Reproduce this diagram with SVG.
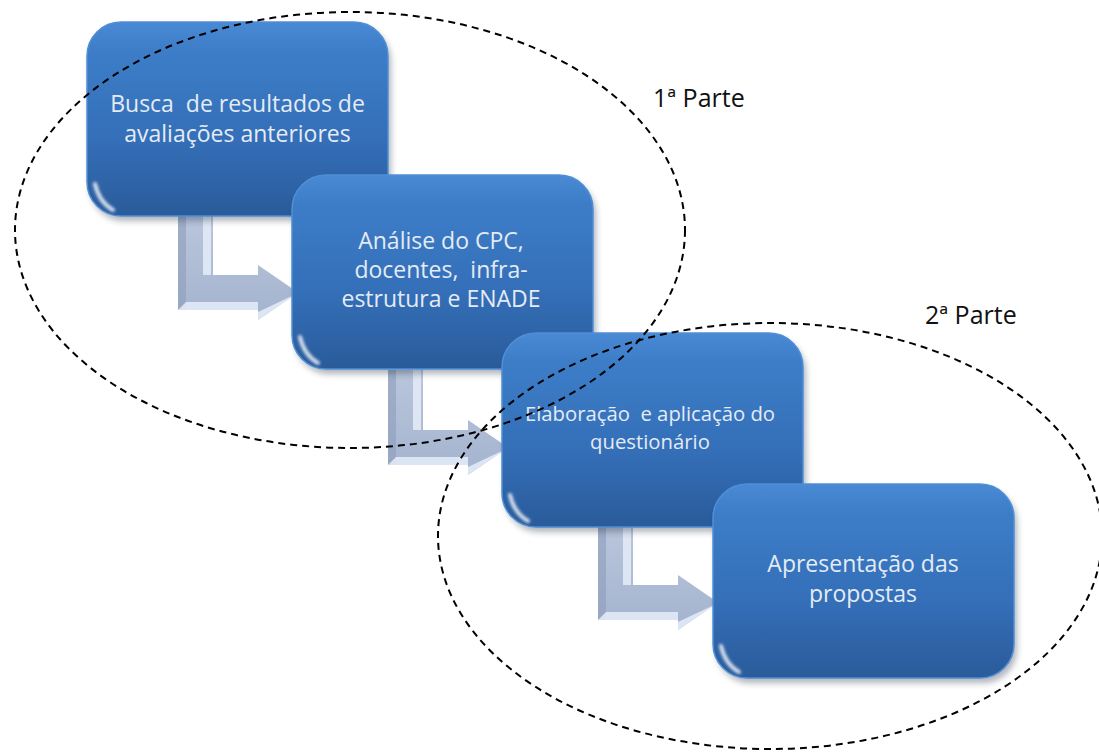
<svg xmlns="http://www.w3.org/2000/svg" width="1099" height="753" viewBox="0 0 1099 753">
<style>
.box{fill:url(#boxGrad);stroke:#4f8fd6;stroke-width:1.5}
.shadow{fill:#1a2a40;opacity:.35;filter:url(#blur4)}
.hltop{fill:none;stroke:url(#hlGrad);stroke-width:5;stroke-linecap:round;filter:url(#blur1)}
.glare{fill:none;stroke:#ffffff;stroke-width:4;stroke-linecap:round;opacity:.8;filter:url(#blur2)}
.edger{fill:none;stroke:#8cc0ef;stroke-width:3;opacity:.55;filter:url(#blur1)}
.lbl{font-family:"Open Sans","Liberation Sans",sans-serif;font-size:23px;fill:#e4ebf4;text-anchor:middle}
.part{font-family:"Open Sans","Liberation Sans",sans-serif;font-size:25px;fill:#111}
.ell{fill:none;stroke:#000;stroke-width:2;stroke-dasharray:7 5}
.arr{fill:url(#arrGrad)}
.arrhl{fill:#e2eaf6;opacity:.9}
.arrsh{fill:#8e9dbb;opacity:.6}
</style>
<defs>
<linearGradient id="boxGrad" x1="0" y1="0" x2="0" y2="1">
<stop offset="0" stop-color="#4a8ad4"/>
<stop offset="0.15" stop-color="#3d7dc8"/>
<stop offset="0.6" stop-color="#346fb8"/>
<stop offset="1" stop-color="#2a5b9a"/>
</linearGradient>
<linearGradient id="hlGrad" x1="0" y1="0" x2="1" y2="0">
<stop offset="0" stop-color="#9fcbf3" stop-opacity="0.2"/>
<stop offset="0.15" stop-color="#9fcbf3" stop-opacity="0.8"/>
<stop offset="0.85" stop-color="#9fcbf3" stop-opacity="0.8"/>
<stop offset="1" stop-color="#9fcbf3" stop-opacity="0.2"/>
</linearGradient>
<linearGradient id="arrGrad" x1="0" y1="0" x2="0" y2="1">
<stop offset="0" stop-color="#b9c6dc"/>
<stop offset="1" stop-color="#a4b3ce"/>
</linearGradient>
<filter id="blur1" x="-20%" y="-20%" width="140%" height="140%"><feGaussianBlur stdDeviation="1.2"/></filter>
<filter id="blur2" x="-50%" y="-50%" width="200%" height="200%"><feGaussianBlur stdDeviation="1.8"/></filter>
<filter id="blur4" x="-20%" y="-20%" width="140%" height="140%"><feGaussianBlur stdDeviation="3"/></filter>
<g id="arrow">
<path class="arr" d="M0,0 H35 V60 H80 V50 L120,77.5 L80,105 V95 H0 Z"/>
<path class="arrhl" d="M25,0 H33 V60 H25 Z" opacity=".7"/>
<path class="arrsh" d="M0,0 H8 V95 H0 Z"/>
<path class="arrhl" d="M8,87 H80 V95 H0 Z"/>
<path class="arrhl" d="M80,97 L118,79 L120,77.5 L80,105 Z" opacity=".6"/>
</g>
</defs>
<g id="connectors">
<use href="#arrow" transform="translate(178,215)"/>
<use href="#arrow" transform="translate(388,370)"/>
<use href="#arrow" transform="translate(598,525)"/>
</g>
<g id="n1" transform="translate(87,22)">
<rect class="shadow" x="3" y="5" width="301" height="194" rx="34"/>
<rect class="box" width="301" height="194" rx="34"/>
<path class="hltop" d="M26,7 H275"/>
<path class="glare" d="M8,162 Q12,180 26,188"/>
<path class="edger" d="M296,32 V162"/>
<text class="lbl" x="150.5" y="90" xml:space="preserve">Busca  de resultados de</text>
<text class="lbl" x="150.5" y="120">avaliações anteriores</text>
</g>
<g id="n2" transform="translate(292,175)">
<rect class="shadow" x="3" y="5" width="301" height="194" rx="34"/>
<rect class="box" width="301" height="194" rx="34"/>
<path class="hltop" d="M26,7 H275"/>
<path class="glare" d="M8,162 Q12,180 26,188"/>
<path class="edger" d="M296,32 V162"/>
<text class="lbl" x="149" y="74">Análise do CPC,</text>
<text class="lbl" x="149" y="103" xml:space="preserve">docentes,  infra-</text>
<text class="lbl" x="149" y="132">estrutura e ENADE</text>
</g>
<g id="n3" transform="translate(502,333)">
<rect class="shadow" x="3" y="5" width="301" height="194" rx="34"/>
<rect class="box" width="301" height="194" rx="34"/>
<path class="hltop" d="M26,7 H275"/>
<path class="glare" d="M8,162 Q12,180 26,188"/>
<path class="edger" d="M296,32 V162"/>
<text class="lbl" x="148" y="88" style="font-size:20.3px" xml:space="preserve">Elaboração  e aplicação do</text>
<text class="lbl" x="148" y="116" style="font-size:20.3px">questionário</text>
</g>
<g id="n4" transform="translate(713,484)">
<rect class="shadow" x="3" y="5" width="301" height="194" rx="34"/>
<rect class="box" width="301" height="194" rx="34"/>
<path class="hltop" d="M26,7 H275"/>
<path class="glare" d="M8,162 Q12,180 26,188"/>
<path class="edger" d="M296,32 V162"/>
<text class="lbl" x="150" y="88">Apresentação das</text>
<text class="lbl" x="150" y="118">propostas</text>
</g>
<g id="groups">
<ellipse class="ell" cx="350" cy="230" rx="335" ry="218"/>
<ellipse class="ell" cx="770" cy="536" rx="332" ry="213"/>
<text class="part" x="653" y="107">1ª Parte</text>
<text class="part" x="925" y="324">2ª Parte</text>
</g>
</svg>
